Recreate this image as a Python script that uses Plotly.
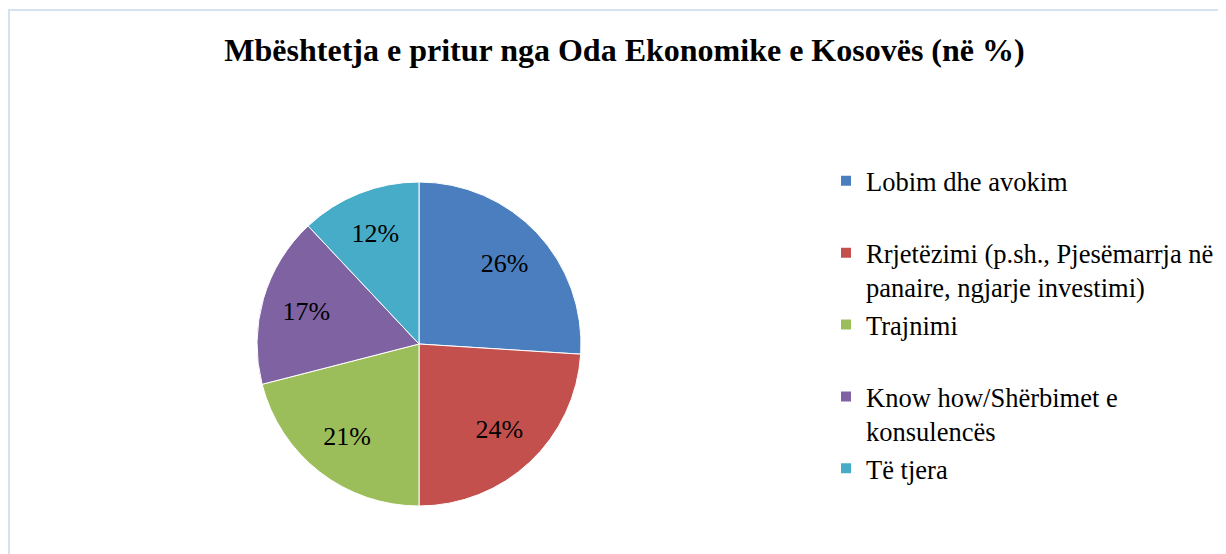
import plotly.graph_objects as go

categories = [
    "Lobim dhe avokim",
    "Rrjetëzimi (p.sh., Pjesëmarrja në<br>panaire, ngjarje investimi)",
    "Trajnimi",
    "Know how/Shërbimet e<br>konsulencës",
    "Të tjera",
]
values = [26, 24, 21, 17, 12]
colors = ["#4a7ebe", "#c4504e", "#9cbe5a", "#7e62a2", "#47acc8"]

# pad single-line names so every legend entry occupies two lines
legend_names = [c if "<br>" in c else c + "<br> " for c in categories]

O = 8                      # page offset of the plot div
FW, FH = 1226 - O, 554 - O  # figure size
cx, cy, r = 419 - O, 344 - O, 162

SERIF = "Liberation Serif, Times New Roman, serif"

def px_x(x):
    return x / FW

def px_y(y):
    return 1 - y / FH

dom = dict(x=[px_x(cx - r), px_x(cx + r)], y=[px_y(cy + r), px_y(cy - r)])

fig = go.Figure()
fig.add_trace(
    go.Pie(
        labels=legend_names,
        values=values,
        sort=False,
        direction="clockwise",
        rotation=0,
        marker=dict(colors=colors, line=dict(color="white", width=1)),
        textinfo="none",
        hoverinfo="label+value",
        domain=dom,
    )
)
# transparent ring carrying the percentage labels (placed at ~0.72 R)
fig.add_trace(
    go.Pie(
        labels=legend_names,
        values=values,
        sort=False,
        direction="clockwise",
        rotation=0,
        hole=0.45,
        showlegend=False,
        marker=dict(colors=["rgba(0,0,0,0)"] * len(values), line=dict(width=0)),
        texttemplate="%{value}%",
        textposition="inside",
        insidetextorientation="horizontal",
        textfont=dict(family=SERIF, size=26, color="black"),
        hoverinfo="skip",
        domain=dom,
    )
)

fig.update_layout(
    width=FW,
    height=FH,
    margin=dict(l=0, r=0, t=0, b=0),
    paper_bgcolor="white",
    plot_bgcolor="white",
    title=dict(
        text="<b>Mbështetja e pritur nga Oda Ekonomike e Kosovës (në %)</b>",
        x=px_x(624.5 - O),
        xanchor="center",
        y=px_y(50 - O),
        yanchor="middle",
        font=dict(family=SERIF, size=32, color="black"),
    ),
    legend=dict(
        x=px_x(826 - O),
        xanchor="left",
        y=px_y(157 - O),
        yanchor="top",
        valign="top",
        font=dict(family=SERIF, size=26.5, color="black"),
        itemsizing="constant",
        tracegroupgap=0,
        itemwidth=30,
        traceorder="normal",
    ),
    shapes=[
        dict(
            type="rect", xref="paper", yref="paper",
            x0=px_x(1), x1=1.01, y0=-0.01, y1=px_y(10 - O),
            line=dict(color="#d6e2f1", width=2),
        )
    ],
)

fig.write_html("out.html")
